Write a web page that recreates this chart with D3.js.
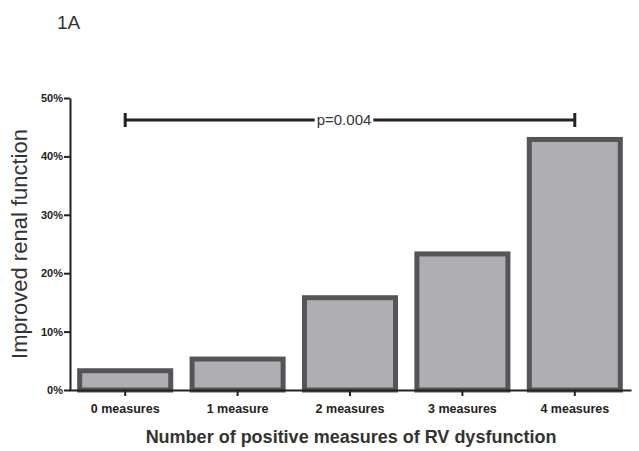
<!DOCTYPE html>
<html><head><meta charset="utf-8">
<script src="https://cdn.jsdelivr.net/npm/d3@7"></script>
<style>body{margin:0;background:#fff;}svg{display:block;font-family:"Liberation Sans",Arial,sans-serif;}</style>
</head><body>
<svg id="c" width="639" height="451"></svg>
<script>
const categories = ["0 measures","1 measure","2 measures","3 measures","4 measures"];
const values = [3.3, 5.3, 15.8, 23.3, 42.9];
const yTicks = [0,10,20,30,40,50];
const pLabel = "p=0.004";

const svg = d3.select("#c");
const x = d3.scaleBand().domain(categories).range([69,631]).paddingInner(0.19).paddingOuter(0.095);
const y = d3.scaleLinear().domain([0,50]).range([390,98]);

// bars
svg.append("g").selectAll("rect").data(values).join("rect")
  .attr("x",(d,i)=>x(categories[i]))
  .attr("width",x.bandwidth())
  .attr("y",d=>y(d))
  .attr("height",d=>y(0)-y(d))
  .attr("fill","#aeaeb3").attr("stroke","#555558").attr("stroke-width",5);

// y axis
const ya = svg.append("g").attr("transform","translate(70,0)")
  .call(d3.axisLeft(y).tickValues(yTicks).tickFormat(d=>d+"%").tickSize(6).tickSizeOuter(0));
ya.select(".domain").attr("stroke","#222").attr("stroke-width",2);
ya.selectAll(".tick line").attr("stroke","#222").attr("stroke-width",2);
ya.selectAll(".tick text").attr("font-size",11).attr("font-weight","bold").attr("fill","#222").attr("x",-7).attr("font-family","Liberation Sans, Arial, sans-serif");

// x axis
const xa = svg.append("g").attr("transform","translate(0,390)")
  .call(d3.axisBottom(x).tickSize(6).tickSizeOuter(0));
xa.select(".domain").attr("stroke","#222").attr("stroke-width",2);
xa.selectAll(".tick line").attr("stroke","#222").attr("stroke-width",2);
xa.selectAll(".tick text").attr("font-size",12.5).attr("font-weight","bold").attr("fill","#222").attr("dy","1.1em").attr("font-family","Liberation Sans, Arial, sans-serif");

// titles
svg.append("text").attr("transform","translate(27,244) rotate(-90)").attr("text-anchor","middle")
  .attr("font-size",22).attr("fill","#333").text("Improved renal function");
svg.append("text").attr("x",351).attr("y",443).attr("text-anchor","middle")
  .attr("font-size",18).attr("font-weight","bold").attr("fill","#333").text("Number of positive measures of RV dysfunction");
svg.append("text").attr("x",57).attr("y",29).attr("font-size",19).attr("fill","#333").text("1A");

// significance bracket
const x1 = x(categories[0])+x.bandwidth()/2, x2 = x(categories[4])+x.bandwidth()/2;
const by = 120;
const bg = svg.append("g").attr("stroke","#222").attr("stroke-width",3);
bg.append("line").attr("x1",x1).attr("x2",x2).attr("y1",by).attr("y2",by);
bg.append("line").attr("x1",x1).attr("x2",x1).attr("y1",by-7).attr("y2",by+7);
bg.append("line").attr("x1",x2).attr("x2",x2).attr("y1",by-7).attr("y2",by+7);
const mask = svg.append("rect").attr("fill","#fff");
const pt = svg.append("text").attr("x",(x1+x2)/2 - 6).attr("y",by+5).attr("text-anchor","middle")
  .attr("font-size",15).attr("fill","#333").text(pLabel);
const bb = pt.node().getBBox();
mask.attr("x",bb.x-2).attr("y",by-3).attr("width",bb.width+4).attr("height",6);
</script>
</body></html>
